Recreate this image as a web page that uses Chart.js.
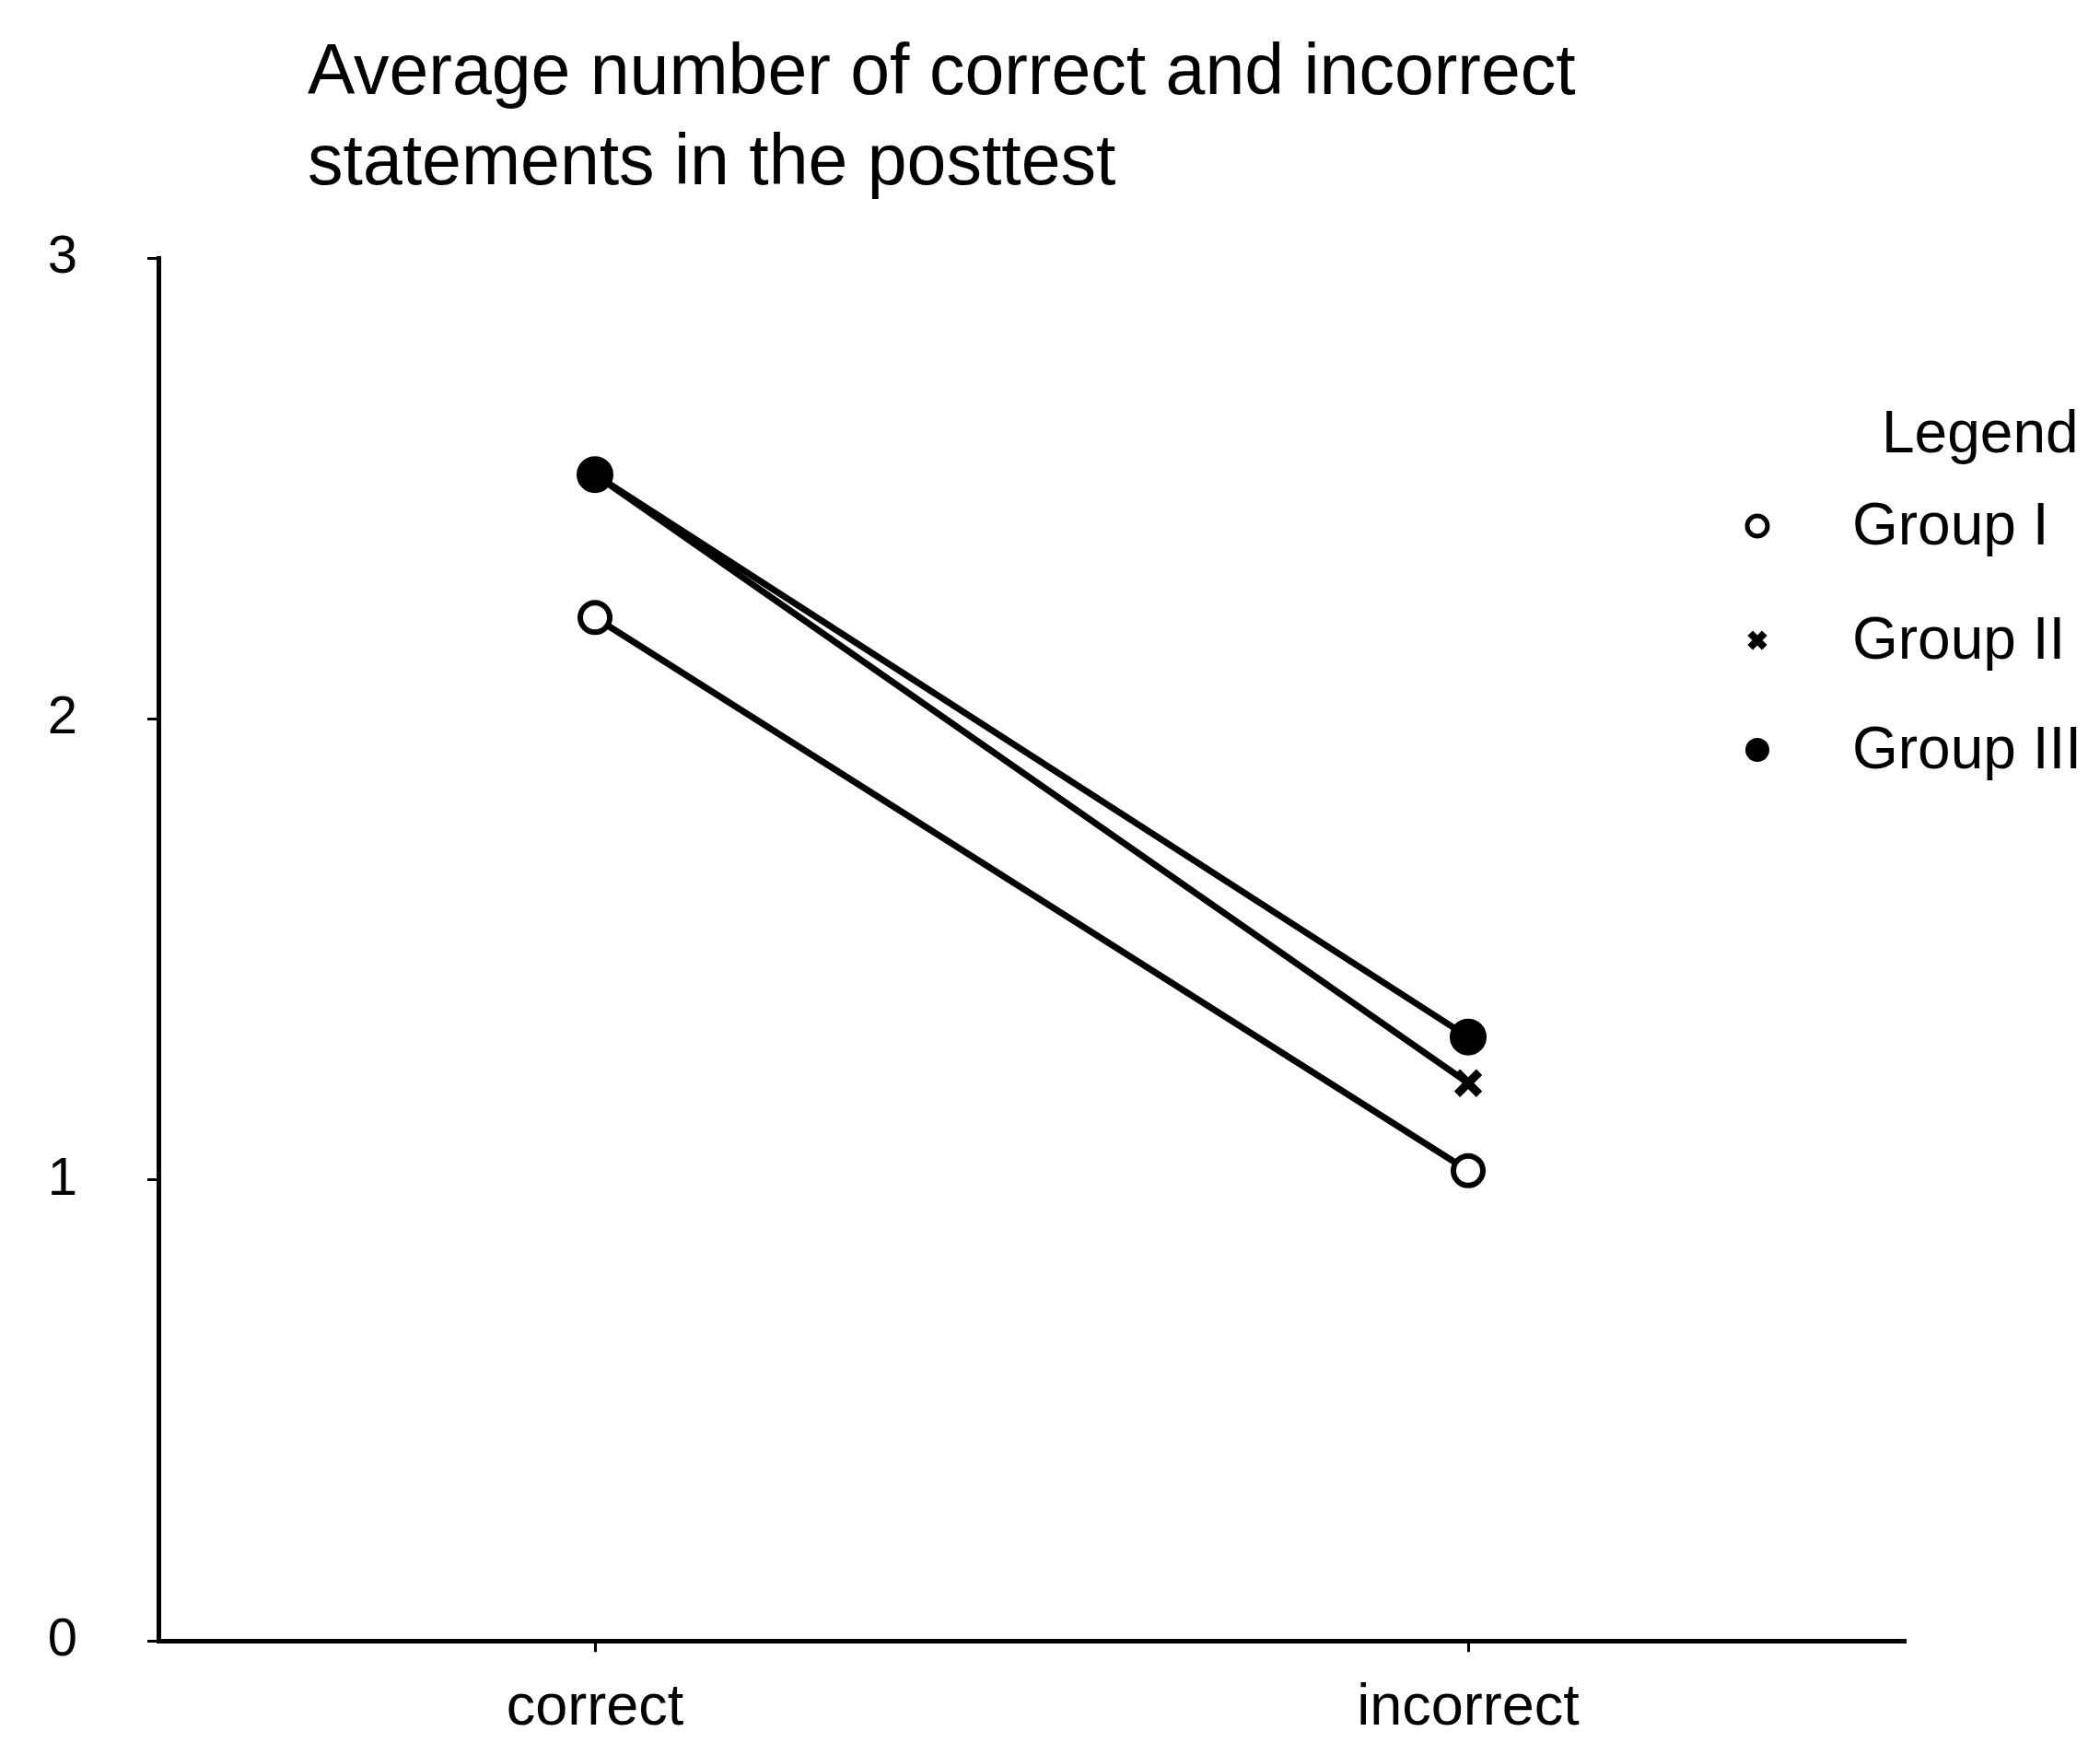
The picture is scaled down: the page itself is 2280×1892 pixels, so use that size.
<!DOCTYPE html>
<html>
<head>
<meta charset="utf-8">
<script src="https://cdn.jsdelivr.net/npm/chart.js@4/dist/chart.umd.min.js"></script>
<style>
  html, body { margin: 0; padding: 0; background: #fff; }
  #wrap { width: 2280px; height: 1892px; }
</style>
</head>
<body>
<div id="wrap"><canvas id="postChart" width="2280" height="1892"></canvas></div>
<script>
// data
const categories = ['correct', 'incorrect'];
const groupNames = ['Group I', 'Group II', 'Group III'];
const groupI = [2.22, 1.02];
const groupII = [2.53, 1.21];
const groupIII = [2.53, 1.31];
const yTicks = [0, 1, 2, 3];
const titleLines = ['Average number of correct and incorrect', 'statements in the posttest'];

const FONT = '"Liberation Sans", Arial, Helvetica, sans-serif';

// title drawn in the top left, offset from the axis like the original
const titlePlugin = {
    id: 'leftTitle',
    afterDraw(chart) {
        const ctx = chart.ctx;
        ctx.save();
        ctx.fillStyle = '#000';
        ctx.font = '77px ' + FONT;
        ctx.textBaseline = 'alphabetic';
        ctx.textAlign = 'left';
        titleLines.forEach((line, i) => {
            ctx.fillText(line, 334, 102 + i * 98);
        });
        ctx.restore();
    }
};

// legend box sits over the right part of the plot
const legendPlugin = {
    id: 'sideLegend',
    afterDraw(chart) {
        const ctx = chart.ctx;
        ctx.save();
        ctx.fillStyle = '#000';
        ctx.font = '64px ' + FONT;
        ctx.textAlign = 'left';
        ctx.textBaseline = 'alphabetic';
        ctx.fillText('Legend', 2043, 491);

        const rows = [571, 695, 814];
        const markers = [
            { pointStyle: 'circle', radius: 11, borderWidth: 5, fill: '#fff' },
            { pointStyle: 'crossRot', radius: 11, borderWidth: 8, fill: '#000' },
            { pointStyle: 'circle', radius: 12, borderWidth: 2, fill: '#000' }
        ];
        chart.data.datasets.forEach((ds, i) => {
            const m = markers[i];
            ctx.fillStyle = m.fill;
            ctx.strokeStyle = '#000';
            ctx.lineWidth = m.borderWidth;
            Chart.helpers.drawPoint(ctx, { pointStyle: m.pointStyle, radius: m.radius, borderWidth: m.borderWidth, rotation: 0 }, 1908, rows[i]);
            ctx.fillStyle = '#000';
            ctx.textBaseline = 'middle';
            ctx.fillText(ds.label, 2011, rows[i] + 2);
        });
        ctx.restore();
    }
};

const ctx = document.getElementById('postChart').getContext('2d');
new Chart(ctx, {
    type: 'line',
    data: {
        labels: categories,
        datasets: [
            {
                label: groupNames[0],
                data: groupI,
                borderColor: '#000',
                borderWidth: 7,
                pointStyle: 'circle',
                pointRadius: 16,
                pointBorderWidth: 6,
                pointBackgroundColor: '#fff',
                pointBorderColor: '#000',
                order: 3
            },
            {
                label: groupNames[1],
                data: groupII,
                borderColor: '#000',
                borderWidth: 7,
                pointStyle: 'crossRot',
                pointRadius: 17,
                pointBorderWidth: 9,
                pointBackgroundColor: '#000',
                pointBorderColor: '#000',
                order: 2
            },
            {
                label: groupNames[2],
                data: groupIII,
                borderColor: '#000',
                borderWidth: 7,
                pointStyle: 'circle',
                pointRadius: 19,
                pointBorderWidth: 2,
                pointBackgroundColor: '#000',
                pointBorderColor: '#000',
                order: 1
            }
        ]
    },
    options: {
        responsive: false,
        animation: false,
        devicePixelRatio: 1,
        tension: 0,
        layout: {
            padding: { top: 280, right: 212, bottom: 0, left: 0 }
        },
        scales: {
            x: {
                offset: true,
                grid: {
                    display: true,
                    drawOnChartArea: false,
                    drawTicks: true,
                    tickLength: 12,
                    color: '#000',
                    lineWidth: 3
                },
                border: { display: true, color: '#000', width: 5 },
                ticks: {
                    color: '#000',
                    padding: 24,
                    font: { family: FONT, size: 63 }
                },
                afterFit(scale) { scale.height = 102; }
            },
            y: {
                min: 0,
                max: 3,
                afterBuildTicks(scale) {
                    scale.ticks = yTicks.map(v => ({ value: v }));
                },
                grid: {
                    display: true,
                    drawOnChartArea: false,
                    drawTicks: true,
                    tickLength: 12,
                    color: '#000',
                    lineWidth: 3
                },
                border: { display: true, color: '#000', width: 5 },
                ticks: {
                    color: '#000',
                    padding: 76,
                    font: { family: FONT, size: 58 }
                },
                afterFit(scale) { scale.width = 172; }
            }
        },
        plugins: {
            legend: { display: false },
            title: { display: false },
            tooltip: { enabled: false }
        }
    },
    plugins: [titlePlugin, legendPlugin]
});
</script>
</body>
</html>
